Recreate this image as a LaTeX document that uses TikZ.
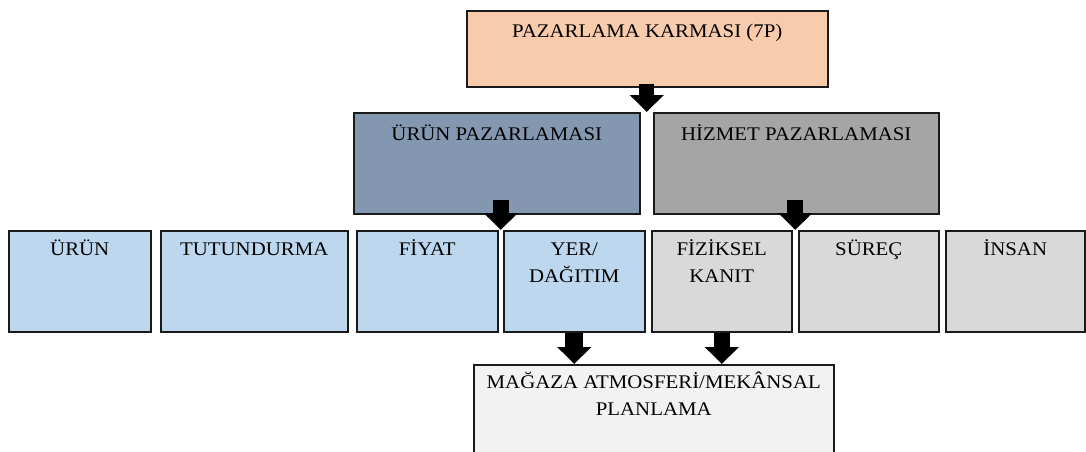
\documentclass[tikz,border=0pt]{standalone}
\usepackage{fontspec}
\setmainfont[FakeStretch=1.08]{Liberation Serif}
\usetikzlibrary{arrows.meta,calc}
\definecolor{peach}{HTML}{F8CBAD}
\definecolor{slateb}{HTML}{8497B0}
\definecolor{midgray}{HTML}{A5A5A5}
\definecolor{lightblue}{HTML}{BDD7EE}
\definecolor{lightgray}{HTML}{D9D9D9}
\definecolor{palegray}{HTML}{F2F2F2}
\definecolor{edge}{HTML}{1A1A1A}
\begin{document}
\begin{tikzpicture}[x=1pt,y=-1pt,
  box/.style={draw=edge, line width=1.5pt, inner sep=0pt, anchor=north west},
  lbl/.style={anchor=base, font=\fontsize{19.3}{27}\selectfont, align=center, inner sep=0pt, text=black},
  blkarrow/.style={draw=black, line width=#1, -{Triangle[width=33pt,length=17pt]}},
  blkarrow/.default=16pt]
\clip (0,0) rectangle (1086,451);
\fill[white] (0,0) rectangle (1086,451);

% top
\node[box, fill=peach, minimum width=361pt, minimum height=76pt] (top) at (466,10) {};
\node[lbl] (top-t) at ($(top.north)+(0,27)$) {PAZARLAMA KARMASI (7P)};

% middle
\node[box, fill=slateb, minimum width=286pt, minimum height=101pt] (urunp) at (353,112) {};
\node[lbl] (urunp-t) at ($(urunp.north)+(0,28)$) {ÜRÜN PAZARLAMASI};
\node[box, fill=midgray, minimum width=285pt, minimum height=101pt] (hizmet) at (653,112) {};
\node[lbl] (hizmet-t) at ($(hizmet.north)+(0,28)$) {HİZMET PAZARLAMASI};

% bottom row
\node[box, fill=lightblue, minimum width=142pt, minimum height=101pt] (urun) at (8,230) {};
\node[lbl] (urun-t) at ($(urun.north)+(0,25)$) {ÜRÜN};
\node[box, fill=lightblue, minimum width=187pt, minimum height=101pt] (tutun) at (160,230) {};
\node[lbl] (tutun-t) at ($(tutun.north)+(0,25)$) {TUTUNDURMA};
\node[box, fill=lightblue, minimum width=141pt, minimum height=101pt] (fiyat) at (356,230) {};
\node[lbl] (fiyat-t) at ($(fiyat.north)+(0,25)$) {FİYAT};
\node[box, fill=lightblue, minimum width=141pt, minimum height=101pt] (yer) at (503,230) {};
\node[lbl] (yer-t) at ($(yer.north)+(0,52)$) {YER/\\DAĞITIM};
\node[box, fill=lightgray, minimum width=140pt, minimum height=101pt] (fiz) at (651,230) {};
\node[lbl] (fiz-t) at ($(fiz.north)+(0,52)$) {FİZİKSEL\\KANIT};
\node[box, fill=lightgray, minimum width=140pt, minimum height=101pt] (surec) at (798,230) {};
\node[lbl] (surec-t) at ($(surec.north)+(0,25)$) {SÜREÇ};
\node[box, fill=lightgray, minimum width=139pt, minimum height=101pt] (insan) at (945,230) {};
\node[lbl] (insan-t) at ($(insan.north)+(0,25)$) {İNSAN};

% bottom box
\node[box, fill=palegray, minimum width=360pt, minimum height=120pt] (magaza) at (473,364) {};
\node[lbl] (magaza-t) at ($(magaza.north)+(0,51)$) {MAĞAZA ATMOSFERİ/MEKÂNSAL\\PLANLAMA};

% arrows
\coordinate (g0) at ($(urunp.north east)!.5!(hizmet.north west)$);
\coordinate (gA) at ($(fiyat.north east)!.5!(yer.north west)$);
\coordinate (gB) at ($(fiz.north east)!.5!(surec.north west)$);
\draw[blkarrow=15pt] ($(top.south -| g0)+(0,-4)$) -- (g0);
\draw[blkarrow] ($(urunp.south -| gA)+(0,-15)$) -- (gA);
\draw[blkarrow] ($(hizmet.south -| gB)+(0,-15)$) -- (gB);
\draw[blkarrow=18pt] (yer.south) -- (yer.south |- magaza.north);
\draw[blkarrow=16pt] (fiz.south) -- (fiz.south |- magaza.north);
\end{tikzpicture}
\end{document}
